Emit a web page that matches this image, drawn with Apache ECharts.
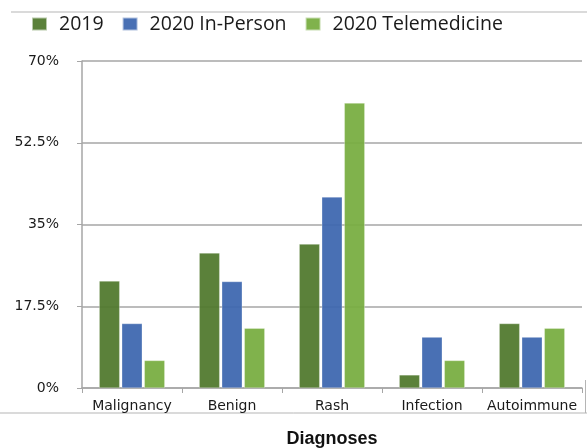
<!DOCTYPE html>
<html><head><meta charset="utf-8">
<script src="https://cdn.jsdelivr.net/npm/echarts@6/dist/echarts.min.js"></script>
<style>html,body{margin:0;padding:0;background:#fff}#c{width:587px;height:448px}</style>
</head><body><div id="c"></div>
<script>
const categories = ['Malignancy', 'Benign', 'Rash', 'Infection', 'Autoimmune'];
const seriesNames = ['2019', '2020 In-Person', '2020 Telemedicine'];
const values2019 = [22.9, 28.9, 30.8, 2.8, 13.8];
const valuesInPerson = [13.8, 22.8, 40.9, 10.9, 10.9];
const valuesTele = [5.9, 12.8, 61.0, 5.9, 12.8];
const yTicks = [0, 17.5, 35, 52.5, 70];
const colors = ['#527a2f', '#3f68b0', '#79ae42'];

const chart = echarts.init(document.getElementById('c'), null, {renderer: 'canvas'});
const font = '"Open Sans", sans-serif';
const labelFont = '"DejaVu Sans", sans-serif';
const dataSets = [values2019, valuesInPerson, valuesTele];
chart.setOption({
  animation: false,
  color: colors,
  legend: {
    top: 9, left: 26,
    itemWidth: 15, itemHeight: 13, itemGap: 18,
    icon: 'rect',
    textStyle: {fontSize: 19.5, fontFamily: font, color: '#1a1a1a', padding: [0, 0, 0, 7]},
    data: seriesNames
  },
  grid: {left: 82, right: 5, top: 61, bottom: 60, containLabel: false, outerBoundsMode: 'none'},
  xAxis: {
    type: 'category', data: categories,
    axisLine: {lineStyle: {color: '#a6a6a6', width: 1.5}},
    axisTick: {show: true, length: 5, lineStyle: {color: '#a6a6a6'}},
    axisLabel: {interval: 0, fontSize: 14, fontFamily: labelFont, color: '#1a1a1a', margin: 11},
    name: 'Diagnoses', nameLocation: 'middle', nameGap: 42,
    nameTextStyle: {fontSize: 18, fontWeight: 'bold', fontFamily: 'Liberation Sans, Arial, sans-serif', color: '#111'}
  },
  yAxis: {
    type: 'value', min: 0, max: 70, interval: 17.5,
    axisLine: {show: true, lineStyle: {color: '#a6a6a6', width: 1.5}},
    axisTick: {show: true, length: 5, lineStyle: {color: '#a6a6a6'}},
    splitLine: {lineStyle: {color: '#a6a6a6', width: 1.5}},
    axisLabel: {fontSize: 14, fontFamily: labelFont, color: '#1a1a1a', margin: 23,
      formatter: v => yTicks.includes(v) ? v + '%' : ''}
  },
  series: seriesNames.map((n, i) => ({
    name: n, type: 'bar', data: dataSets[i],
    barWidth: 20.5, barGap: '10%',
    itemStyle: {color: colors[i], opacity: 0.95, borderColor: 'rgba(255,255,255,0.6)', borderWidth: 0.5}
  })),
  graphic: [
    {type: 'line', shape: {x1: 11, y1: 12, x2: 587, y2: 12}, style: {stroke: '#b5b5b5', lineWidth: 1}, silent: true},
    {type: 'line', shape: {x1: 0, y1: 413, x2: 587, y2: 413}, style: {stroke: '#b5b5b5', lineWidth: 1}, silent: true},
    {type: 'line', shape: {x1: 585.5, y1: 380, x2: 585.5, y2: 413}, style: {stroke: '#b5b5b5', lineWidth: 1}, silent: true}
  ]
});
</script></body></html>
